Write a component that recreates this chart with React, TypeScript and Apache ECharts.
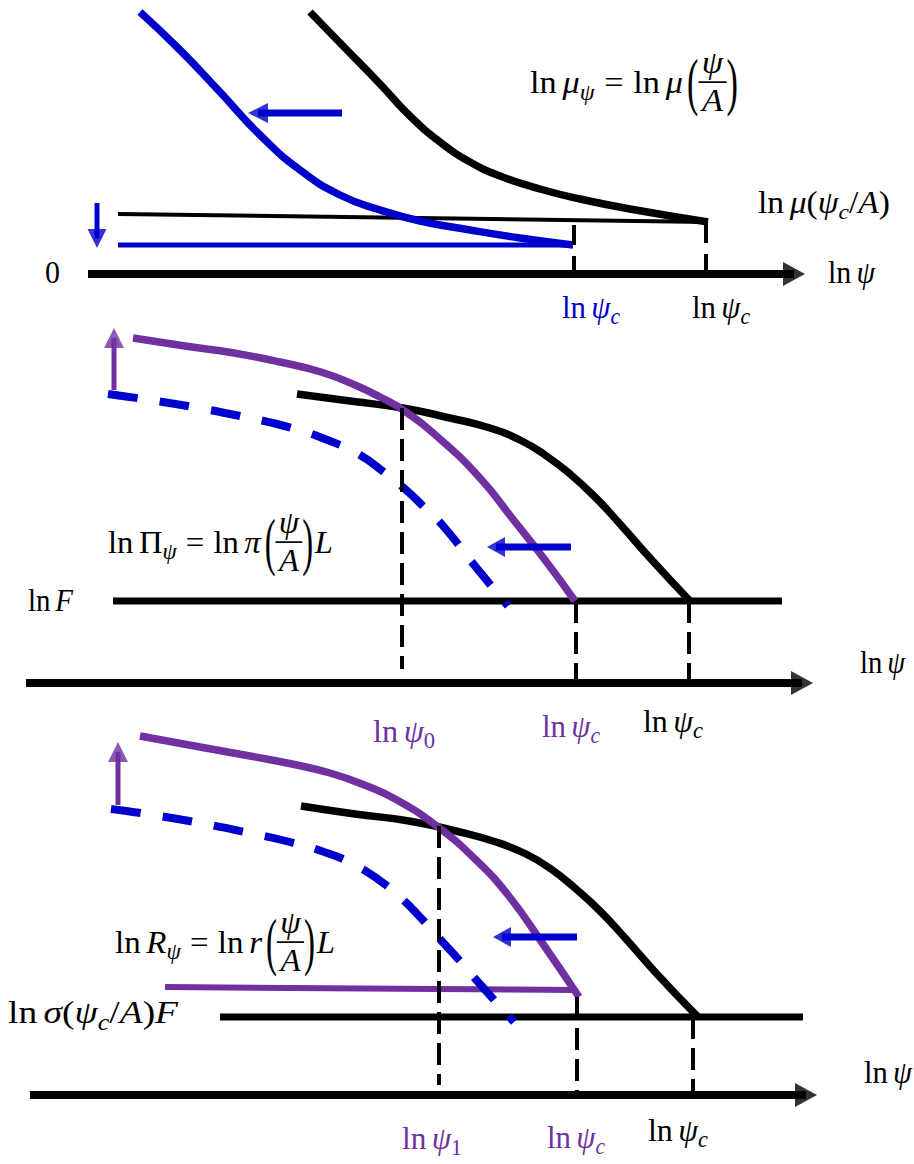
import React, { useEffect, useRef } from "react";
import * as echarts from "echarts";

// ---------- DATA (x: position along ln ψ, y: height above the ln ψ axis of each panel) ----------
// Panel 1 – ln μ
const lnMuOriginal = [[310, 262], [345, 226], [380, 190], [410, 158], [440, 132], [470, 112], [500, 98], [540, 85], [580, 75], [630, 65], [708, 52]];
const lnMuShifted = [[140, 262], [180, 224], [220, 182], [260, 139], [300, 104], [340, 79], [380, 64], [420, 53], [470, 44], [520, 36], [573, 29]];
const lnMuCritOriginal = [[118, 60], [708, 52]];
const lnMuCritShifted = [[118, 29], [573, 29]];
const p1Axis = [[88, 0], [805, 0]];
const p1Ticks = [[574, 49], [706, 51]];
const p1ShiftLeft = [[342, 161], [248, 161]];
const p1ShiftDown = [[97, 71], [97, 26]];

// Panel 2 – ln Π
const lnPiOriginal = [[297, 289], [350, 282], [403, 275], [450, 265], [490, 255], [520, 243], [545, 228], [570, 209], [595, 186], [620, 159], [650, 125], [690, 82]];
const lnPiShifted = [[133, 345], [185, 337], [234, 330], [280, 321], [321, 311], [355, 298], [380, 286], [403, 273], [440, 244], [480, 205], [512, 165], [545, 123], [575, 82]];
const lnPiBefore = [[108, 289], [150, 283], [193, 276], [240, 267], [292, 255], [330, 242], [360, 228], [385, 210], [405, 194], [425, 175], [444, 156], [475, 117], [508, 77]];
const lnF = [[113, 82], [782, 82]];
const p2Axis = [[26, 0], [813, 0]];
const p2TickPsi0 = [[402, 275], [402, 14]];
const p2TickPsiCNew = [[576, 82], [576, 0]];
const p2TickPsiC = [[689, 82], [689, 0]];
const p2ShiftUp = [[114, 293], [114, 355]];
const p2ShiftLeft = [[571, 136], [487, 136]];

// Panel 3 – ln R
const lnROriginal = [[301, 289], [355, 281], [409, 274], [456, 264], [496, 253], [526, 241], [551, 226], [576, 206], [601, 183], [626, 156], [656, 122], [698, 78]];
const lnRShifted = [[140, 359], [200, 348], [250, 339], [292, 331], [330, 322], [362, 311], [397, 295], [438, 268], [475, 236], [508, 200], [543, 151], [579, 98]];
const lnRBefore = [[111, 286], [160, 279], [205, 271], [245, 263], [290, 253], [327, 242], [355, 230], [379, 215], [400, 198], [420, 178], [438, 158], [460, 134], [479, 112], [514, 73]];
const lnRCritShifted = [[165, 108], [575, 105]];
const lnSigmaF = [[220, 78], [803, 78]];
const p3Axis = [[30, 0], [817, 0]];
const p3TickPsi1 = [[439, 269], [439, 10]];
const p3TickPsiCNew = [[577, 98], [577, 0]];
const p3TickPsiC = [[693, 78], [693, 0]];
const p3ShiftUp = [[118, 290], [118, 353]];
const p3ShiftLeft = [[577, 158], [493, 158]];

// ---------- TEXT ----------
type Seg = { t?: string; it?: boolean; sub?: boolean; gap?: number; frac?: [string, string]; paren?: string };
const segLnPsi: Seg[] = [{ t: "ln" }, { gap: 0.17 }, { t: "ψ", it: true }];
const segLnPsiC: Seg[] = [{ t: "ln" }, { gap: 0.17 }, { t: "ψ", it: true }, { t: "c", it: true, sub: true }];
const segLnPsi0: Seg[] = [{ t: "ln" }, { gap: 0.17 }, { t: "ψ", it: true }, { t: "0", sub: true }];
const segLnPsi1: Seg[] = [{ t: "ln" }, { gap: 0.17 }, { t: "ψ", it: true }, { t: "1", sub: true }];
const segZero: Seg[] = [{ t: "0" }];
const segLnF: Seg[] = [{ t: "ln" }, { gap: 0.17 }, { t: "F", it: true }];
const segLnMuCrit: Seg[] = [{ t: "ln" }, { gap: 0.17 }, { t: "μ", it: true }, { t: "(" }, { t: "ψ", it: true }, { t: "c", it: true, sub: true }, { t: "/" }, { t: "A", it: true }, { t: ")" }];
const segLnSigma: Seg[] = [{ t: "ln" }, { gap: 0.17 }, { t: "σ", it: true }, { t: "(" }, { t: "ψ", it: true }, { t: "c", it: true, sub: true }, { t: "/" }, { t: "A", it: true }, { t: ")" }, { t: "F", it: true }];
const segMuFormula: Seg[] = [{ t: "ln" }, { gap: 0.17 }, { t: "μ", it: true }, { t: "ψ", it: true, sub: true }, { gap: 0.28 }, { t: "=" }, { gap: 0.28 }, { t: "ln" }, { gap: 0.17 }, { t: "μ", it: true }, { gap: 0.12 }, { paren: "(" }, { frac: ["ψ", "A"] }, { paren: ")" }];
const segPiFormula: Seg[] = [{ t: "ln" }, { gap: 0.17 }, { t: "Π" }, { t: "ψ", it: true, sub: true }, { gap: 0.28 }, { t: "=" }, { gap: 0.28 }, { t: "ln" }, { gap: 0.17 }, { t: "π", it: true }, { gap: 0.12 }, { paren: "(" }, { frac: ["ψ", "A"] }, { paren: ")" }, { gap: 0.05 }, { t: "L", it: true }];
const segRFormula: Seg[] = [{ t: "ln" }, { gap: 0.17 }, { t: "R", it: true }, { t: "ψ", it: true, sub: true }, { gap: 0.28 }, { t: "=" }, { gap: 0.28 }, { t: "ln" }, { gap: 0.17 }, { t: "r", it: true }, { gap: 0.12 }, { paren: "(" }, { frac: ["ψ", "A"] }, { paren: ")" }, { gap: 0.05 }, { t: "L", it: true }];

const BLUE = "#0000CC";
const PURPLE = "#7030A0";
const BLACK = "#000000";
const FONT = '"Liberation Serif", "Times New Roman", serif';

let ctx: CanvasRenderingContext2D | null = null;
function measure(t: string, it: boolean, fs: number) {
  if (!ctx) ctx = document.createElement("canvas").getContext("2d");
  ctx!.font = `${it ? "italic " : ""}${fs}px ${FONT}`;
  return ctx!.measureText(t).width;
}

function txt(t: string, it: boolean, fs: number, x: number, baseline: number, color: string, align = "left", scaleX = 1) {
  return {
    type: "text",
    x,
    y: baseline - 0.3375 * fs,
    scaleX,
    style: {
      text: t,
      font: `${it ? "italic " : ""}${fs}px ${FONT}`,
      fill: color,
      textAlign: align,
      align,
      textVerticalAlign: "middle",
      verticalAlign: "middle",
    },
  };
}

function formula(segs: Seg[], x0: number, x1: number, B: number, size: number, color: string) {
  const kids: any[] = [];
  let cx = 0;
  for (const s of segs) {
    if (s.gap != null) {
      cx += s.gap * size;
    } else if (s.frac) {
      const [n, d] = s.frac;
      const w = Math.max(measure(n, true, size), measure(d, true, size)) + 0.2 * size;
      const barY = B - 0.34 * size;
      kids.push({ type: "line", shape: { x1: cx, y1: barY, x2: cx + w, y2: barY }, style: { stroke: color, lineWidth: 1.7 } });
      kids.push(txt(n, true, size, cx + w / 2, barY - 0.28 * size, color, "center"));
      kids.push(txt(d, true, size, cx + w / 2, barY + 0.9 * size, color, "center"));
      cx += w;
    } else if (s.paren) {
      const fs = size * 2.0;
      const sx = 0.5;
      const w = measure(s.paren, false, fs) * sx;
      kids.push(txt(s.paren, false, fs, cx, B - 0.2 * size + 0.255 * fs, color, "left", sx));
      cx += w;
    } else if (s.t != null) {
      const fs = s.sub ? size * 0.7 : size;
      const b = s.sub ? B + 0.2 * size : B;
      kids.push(txt(s.t, !!s.it, fs, cx, b, color));
      cx += measure(s.t, !!s.it, fs);
    }
  }
  return { type: "group", x: x0, y: 0, scaleX: (x1 - x0) / cx, children: kids };
}

function line(grid: number, data: number[][], color: string, width: number, dash?: number[], smooth?: boolean) {
  return {
    type: "line",
    xAxisIndex: grid,
    yAxisIndex: grid,
    data,
    symbol: "none",
    showSymbol: false,
    smooth: smooth ? 0.5 : false,
    clip: false,
    silent: true,
    lineStyle: { color, width, type: dash ?? "solid", cap: "butt", join: "round" },
  };
}

function arrow(grid: number, pts: number[][], color: string, shaft: number, headLen: number, headW: number) {
  const [from, to] = pts;
  const dx = to[0] - from[0];
  const dy = to[1] - from[1];
  const L = Math.hypot(dx, dy);
  const c = [to[0] - (dx / L) * headLen / 2, to[1] - (dy / L) * headLen / 2];
  const rot = (Math.atan2(dy, dx) * 180) / Math.PI - 90;
  return [
    line(grid, [from, c], color, shaft),
    {
      type: "scatter",
      xAxisIndex: grid,
      yAxisIndex: grid,
      data: [c],
      symbol: "triangle",
      symbolSize: [headW, headLen],
      symbolRotate: rot,
      itemStyle: { color },
      silent: true,
      clip: false,
    },
  ];
}

function buildOption() {
  const DASH_V = [22, 9];
  const DASH_B = [30, 22];
  const CW = 7.5;
  const series: any[] = [
    // panel 1
    line(0, lnMuCritOriginal, BLACK, 4),
    line(0, lnMuCritShifted, BLUE, 5),
    line(0, lnMuOriginal, BLACK, CW, undefined, true),
    line(0, lnMuShifted, BLUE, CW, undefined, true),
    ...p1Ticks.map(([x, top]) => line(0, [[x, top], [x, 0]], BLACK, 4, [20, 11])),
    ...arrow(0, p1Axis, BLACK, 8, 22, 24),
    ...arrow(0, p1ShiftLeft, BLUE, 7, 20, 20),
    ...arrow(0, p1ShiftDown, BLUE, 5, 19, 19),
    // panel 2
    line(1, lnF, BLACK, 7),
    line(1, lnPiBefore, BLUE, 8, DASH_B, true),
    line(1, lnPiOriginal, BLACK, CW, undefined, true),
    line(1, lnPiShifted, PURPLE, CW, undefined, true),
    line(1, p2TickPsi0, BLACK, 4, DASH_V),
    line(1, p2TickPsiCNew, BLACK, 4, DASH_V),
    line(1, p2TickPsiC, BLACK, 4, DASH_V),
    ...arrow(1, p2Axis, BLACK, 8, 22, 24),
    ...arrow(1, p2ShiftUp, PURPLE, 5, 20, 20),
    ...arrow(1, p2ShiftLeft, BLUE, 7, 18, 20),
    // panel 3
    line(2, lnSigmaF, BLACK, 7),
    line(2, lnRCritShifted, PURPLE, 6),
    line(2, lnRBefore, BLUE, 8, DASH_B, true),
    line(2, lnROriginal, BLACK, CW, undefined, true),
    line(2, lnRShifted, PURPLE, CW, undefined, true),
    line(2, p3TickPsi1, BLACK, 4, DASH_V),
    line(2, p3TickPsiCNew, BLACK, 4, DASH_V),
    line(2, p3TickPsiC, BLACK, 4, DASH_V),
    ...arrow(2, p3Axis, BLACK, 8, 22, 24),
    ...arrow(2, p3ShiftUp, PURPLE, 5, 20, 20),
    ...arrow(2, p3ShiftLeft, BLUE, 7, 18, 20),
  ];

  const S = 32;
  const graphic = [
    formula(segMuFormula, 530, 738, 93, S, BLACK),
    formula(segLnMuCrit, 758, 890, 213, 31, BLACK),
    formula(segZero, 45, 60, 283, 31, BLACK),
    formula(segLnPsi, 828, 875, 283, S, BLACK),
    formula(segLnPsiC, 562, 620, 318, S, BLUE),
    formula(segLnPsiC, 692, 750, 318, S, BLACK),

    formula(segPiFormula, 108, 333, 553, S, BLACK),
    formula(segLnF, 28, 73, 611, S, BLACK),
    formula(segLnPsi, 860, 905, 673, S, BLACK),
    formula(segLnPsi0, 373, 435, 742, S, PURPLE),
    formula(segLnPsiC, 542, 600, 737, S, PURPLE),
    formula(segLnPsiC, 643, 703, 732, S, BLACK),

    formula(segRFormula, 115, 335, 953, S, BLACK),
    formula(segLnSigma, 8, 178, 1023, S, BLACK),
    formula(segLnPsi, 864, 912, 1083, S, BLACK),
    formula(segLnPsi1, 402, 462, 1149, S, PURPLE),
    formula(segLnPsiC, 547, 605, 1148, S, PURPLE),
    formula(segLnPsiC, 648, 708, 1141, S, BLACK),
  ];

  const bands = [
    { top: 0, height: 300, axisY: 274 },
    { top: 300, height: 420, axisY: 683 },
    { top: 720, height: 444, axisY: 1095 },
  ];

  return {
    animation: false,
    backgroundColor: "#ffffff",
    grid: bands.map((b) => ({ left: 0, right: 0, top: b.top, height: b.height })),
    xAxis: bands.map((_, i) => ({ type: "value", gridIndex: i, min: 0, max: 914, show: false })),
    yAxis: bands.map((b, i) => ({
      type: "value",
      gridIndex: i,
      min: b.axisY - (b.top + b.height),
      max: b.axisY - b.top,
      show: false,
    })),
    series,
    graphic,
  };
}

export default function App() {
  const ref = useRef<HTMLDivElement>(null);
  useEffect(() => {
    const prev = document.body.style.margin;
    document.body.style.margin = "0";
    const chart = echarts.init(ref.current!, null, { renderer: "svg" });
    chart.setOption(buildOption() as any);
    return () => {
      chart.dispose();
      document.body.style.margin = prev;
    };
  }, []);
  return <div ref={ref} style={{ width: 914, height: 1164 }} />;
}
